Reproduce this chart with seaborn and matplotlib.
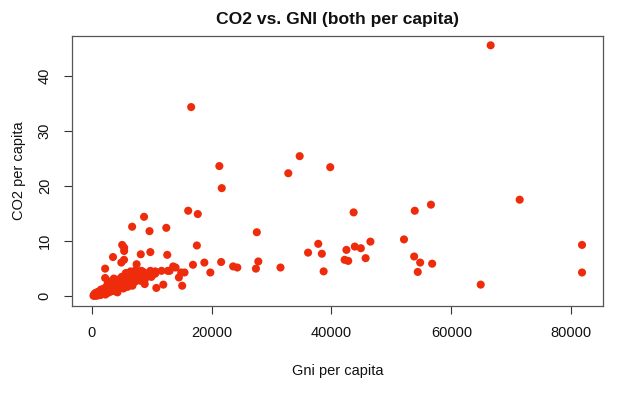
import matplotlib
matplotlib.use("Agg")
import matplotlib.pyplot as plt
import pandas as pd
import seaborn as sns

# GNI per capita (US$) and CO2 per capita (t)
gni_outer = [
    66560, 16600, 21300, 21700, 34700, 39800, 32800, 16100, 17700, 8740,
    43700, 53900, 56600, 71400, 81800, 81800, 64900, 27550, 52100, 46500,
    53800, 54800, 54400, 56800, 18800, 19800, 21600, 23600, 24300, 27400,
    27800, 31500, 36100, 37800, 38400, 38700, 42200, 42800, 42500, 43900,
    44900, 45700, 6750, 9650, 12450, 17550, 5090, 5420, 5420, 3560,
    8190, 9790, 12610, 5400, 4950, 7500, 16900, 2250, 2250, 10790,
    11950, 15100, 14550, 15490, 13600, 14000, 12700, 11650, 10600, 9960,
    8300, 8190, 8850, 13000, 14940,
]
co2_outer = [
    45.5, 34.3, 23.6, 19.6, 25.4, 23.4, 22.3, 15.5, 14.9, 14.4,
    15.2, 15.5, 16.6, 17.5, 9.3, 4.3, 2.1, 11.6, 10.3, 9.9,
    7.2, 6.1, 4.4, 5.9, 6.1, 4.3, 6.2, 5.4, 5.2, 5.0,
    6.3, 5.2, 7.9, 9.5, 7.7, 4.5, 6.6, 6.4, 8.4, 9.0,
    8.7, 6.9, 12.6, 11.8, 12.4, 9.2, 9.3, 8.8, 8.2, 7.1,
    7.6, 8.0, 7.5, 6.6, 6.1, 5.8, 5.7, 5.0, 3.3, 1.5,
    2.1, 1.9, 3.4, 4.3, 5.4, 5.2, 4.6, 4.6, 4.1, 3.5,
    4.6, 2.8, 2.2, 4.6, 4.3,
]

# dense low-income cluster near the origin
gni_cluster = [
    300, 400, 500, 600, 700, 800, 900, 1000, 1100, 1200,
    1300, 1400, 1500, 1600, 1700, 1800, 1900, 2000, 2100, 2200,
    2300, 2400, 2500, 2600, 2700, 2800, 2900, 3000, 3100, 3200,
    3300, 3400, 3500, 3600, 3800, 3900, 4000, 4100, 4200, 4400,
    4500, 4600, 4800, 4900, 5000, 5100, 5300, 5400, 5600, 5700,
    5800, 6000, 6100, 6300, 6500, 6600, 6800, 7000, 7200, 7400,
    7600, 7900, 8100, 8400, 8600, 8900, 9200, 9500, 9800, 10200,
    10600, 450, 650, 1050, 1550, 2050, 2650, 3150, 3700, 4300,
]
co2_cluster = [
    0.1, 0.1, 0.2, 0.1, 0.3, 0.2, 0.1, 0.3, 0.2, 0.4,
    0.5, 0.2, 0.6, 0.3, 0.8, 0.4, 1.0, 0.5, 0.7, 1.2,
    0.3, 1.5, 0.9, 1.8, 0.6, 1.1, 2.0, 1.4, 0.8, 1.7,
    2.4, 1.0, 1.3, 2.1, 1.6, 0.9, 2.6, 1.9, 1.2, 3.0,
    2.2, 1.5, 2.8, 1.8, 3.5, 2.4, 1.4, 3.1, 2.0, 4.2,
    2.7, 1.7, 3.6, 2.3, 4.5, 3.0, 1.9, 3.8, 2.6, 4.8,
    3.3, 2.9, 4.0, 3.5, 4.4, 3.1, 4.1, 3.7, 4.6, 3.9,
    4.5, 0.4, 0.6, 0.8, 1.2, 1.4, 2.2, 2.7, 3.2, 0.7,
]

df = pd.DataFrame({
    "gni": gni_outer + gni_cluster,
    "co2": co2_outer + co2_cluster,
})

sns.set_style("ticks")
plt.rcParams["font.family"] = ["Liberation Sans", "DejaVu Sans"]
plt.rcParams["text.color"] = "#111111"
plt.rcParams["axes.labelcolor"] = "#111111"

fig = plt.figure(figsize=(6.4, 3.95), dpi=100)
ax = fig.add_axes([0.1125, 0.225, 0.8295, 0.684])

sns.scatterplot(data=df, x="gni", y="co2", ax=ax, color="#EE2C0C",
                edgecolor="none", s=34, linewidth=0)

ax.set_xlim(-3280, 85280)
ax.set_ylim(-1.8, 47.2)
ax.set_xticks([0, 20000, 40000, 60000, 80000])
ax.set_yticks([0, 10, 20, 30, 40])
ax.tick_params(direction="out", length=5.5, width=0.8, colors="#333333",
               labelsize=10.5, labelcolor="#111111", pad=9)
for lbl in ax.get_yticklabels():
    lbl.set_rotation(90)
    lbl.set_va("center")

for side in ["left", "right", "top", "bottom"]:
    ax.spines[side].set_visible(True)
    ax.spines[side].set_color("#555555")
    ax.spines[side].set_linewidth(0.9)

ax.set_xlabel("Gni per capita", fontsize=10.5, labelpad=17)
ax.set_ylabel("CO2 per capita", fontsize=10.5, labelpad=8.5)
ax.set_title("CO2 vs. GNI (both per capita)", fontsize=12.6,
             fontweight="bold", pad=8.5)

fig.savefig("out.png", dpi=100)
